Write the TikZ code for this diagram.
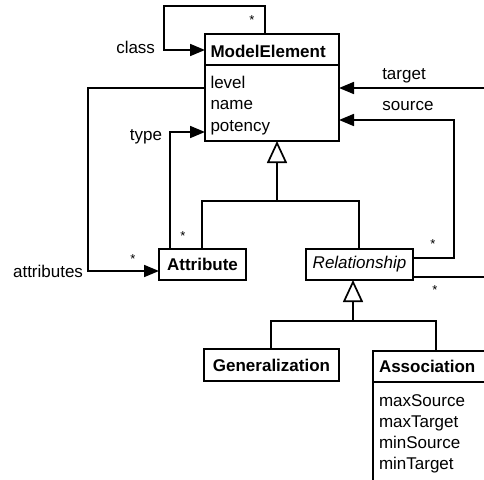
\documentclass[tikz,border=0pt]{standalone}
\usepackage{fontspec}
\setmainfont{Liberation Sans}
\usetikzlibrary{arrows.meta}
\begin{document}
\begin{tikzpicture}[x=1pt,y=-1pt,
  line width=1.7pt, line join=miter,
  every node/.style={inner sep=0pt,outer sep=0pt},
  box/.style={draw,rectangle,anchor=north west,fill=white},
  boldbox/.style={box,font=\fontsize{17}{20}\selectfont\bfseries},
  label/.style={anchor=base,font=\fontsize{17}{20}\selectfont},
  rlabel/.style={anchor=base east,font=\fontsize{17}{20}\selectfont},
  member/.style={anchor=base west,font=\fontsize{17}{20}\selectfont},
  title/.style={anchor=base west,font=\fontsize{17}{20}\selectfont\bfseries},
  mult/.style={anchor=base,font=\fontsize{13}{15}\selectfont},
  nav/.style={-{Triangle[length=15pt,width=12pt]}},
  inherit/.style={-{Triangle[open,length=22pt,width=20pt]}}
]
\useasboundingbox (0,0) rectangle (484,479);
\clip (0,0) rectangle (484,479);

% classes
\node[box,minimum width=134pt,minimum height=107pt] (me) at (205,34) {};
\draw (me.west |- 0,65) -- (me.east |- 0,65);
\node[title]  (meT) at (210.5,57) {ModelElement};
\node[member] (me1) at (210.5,88) {level};
\node[member] (me2) at (210.5,109.5) {name};
\node[member] (me3) at (210.5,131) {potency};

\node[boldbox,minimum width=87pt,minimum height=31pt] (attr) at (159,249) {Attribute};
\node[box,minimum width=107pt,minimum height=31pt,
      font=\fontsize{17}{20}\selectfont\itshape] (rel) at (306,249) {Relationship};
\node[boldbox,minimum width=135pt,minimum height=32pt] (gen) at (204,349) {Generalization};

\node[box,minimum width=140pt,minimum height=150pt] (assoc) at (373,351) {};
\draw (assoc.west |- 0,382) -- (assoc.east |- 0,382);
\node[title]  (asT) at (379,372.5) {Association};
\node[member] (as1) at (379,406) {maxSource};
\node[member] (as2) at (379,427) {maxTarget};
\node[member] (as3) at (379,448) {minSource};
\node[member] (as4) at (379,469) {minTarget};

% loose ends running past the frame
\coordinate (tgtEnd) at (495,88);
\coordinate (relEnd) at (495,277);

% inheritance: Attribute and Relationship from ModelElement
\coordinate (j1) at (277,201);
\draw (attr.north -| 202,0) |- (j1) -| (rel.north -| 359,0);
\draw[inherit] (j1) -- (me.south -| 277,0);

% inheritance: Generalization and Association from Relationship
\coordinate (j2) at (353,321);
\draw (gen.north -| 271,0) |- (j2) -| (436,0 |- assoc.north);
\draw[inherit] (j2) -- (rel.south -| 353,0);

% class (self association)
\draw[nav] (me.north -| 265,0) |- (164,6) |- (me.west |- 0,50);
\node[rlabel] (lclass) at (155,53) {class};
\node[mult] (m1) at (252,24.5) {*};

% attributes
\draw[nav] (me.west |- 0,88) -| (88,271) -- (attr.west |- 0,271);
\node[rlabel] (lattrs) at (83,277) {attributes};
\node[mult] (m2) at (133,263.5) {*};

% type
\draw[nav] (attr.north -| 170,0) |- (me.west |- 0,132);
\node[rlabel] (ltype) at (162,140) {type};
\node[mult] (m3) at (183,240.5) {*};

% source / target
\draw[nav] (rel.east |- 0,258) -| (454,120) -- (me.east |- 0,120);
\node[label] (lsrc) at (408,110) {source};
\node[mult] (m4) at (433,248) {*};
\draw[nav] (tgtEnd) -- (me.east |- 0,88);
\node[label] (ltgt) at (404,79) {target};
\draw (rel.east |- 0,277) -- (relEnd);
\node[mult] (m5) at (435,294) {*};
\end{tikzpicture}
\end{document}
